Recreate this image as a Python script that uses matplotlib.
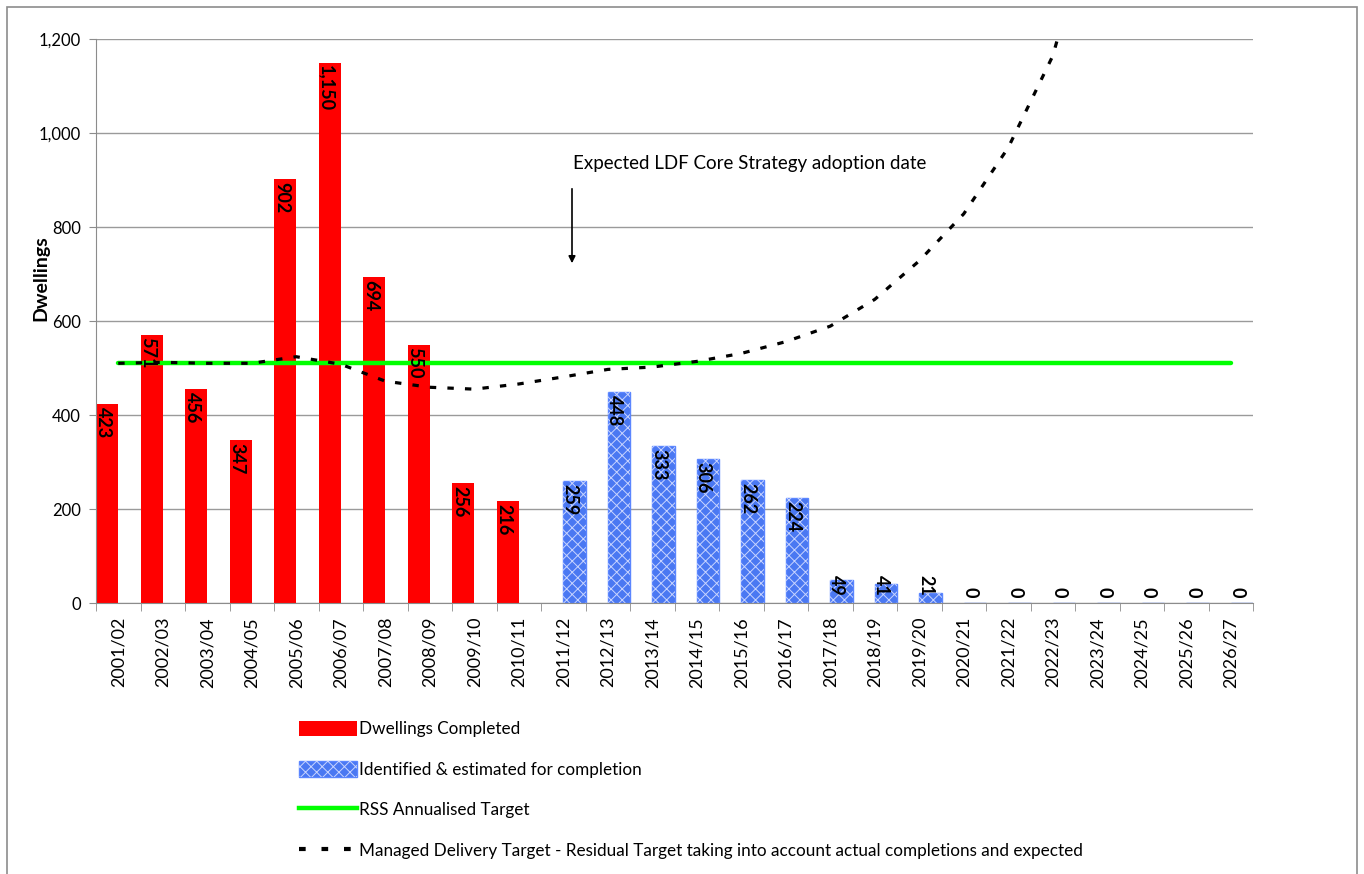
# Dwellings completed / identified vs RSS and managed delivery targets
import numpy as np
import matplotlib
matplotlib.use('agg')
import matplotlib.pyplot as plt
from matplotlib.patches import Patch, Rectangle
from matplotlib.lines import Line2D

plt.rcParams['font.family'] = ['Lato', 'DejaVu Sans']

years = ['2001/02', '2002/03', '2003/04', '2004/05', '2005/06', '2006/07', '2007/08',
         '2008/09', '2009/10', '2010/11', '2011/12', '2012/13', '2013/14', '2014/15',
         '2015/16', '2016/17', '2017/18', '2018/19', '2019/20', '2020/21', '2021/22',
         '2022/23', '2023/24', '2024/25', '2025/26', '2026/27']

completed = [423, 571, 456, 347, 902, 1150, 694, 550, 256, 216]
identified = [259, 448, 333, 306, 262, 224, 49, 41, 21, 0, 0, 0, 0, 0, 0, 0]
rss_target = [510] * 26
managed = [510, 512, 510, 510, 524, 508, 472, 459, 455, 466, 481, 497, 502, 514,
           531, 556, 589, 646, 728, 828, 969, 1164, 1500, 2000, 3000, 6000]

red = '#ff0000'
blue = '#4a78f2'
green = '#00ff00'

fig = plt.figure(figsize=(13.64, 8.74), dpi=100)
ax = fig.add_axes([96/1364, 1 - 603/874, (1253-96)/1364, (603-39)/874])

x = np.arange(len(years))
xc = x[:len(completed)] - 0.25
xi = x[len(completed):] + 0.25

ax.bar(xc, completed, width=0.5, color=red, zorder=2)
ax.bar(xi, identified, width=0.5, color=blue, edgecolor='#5b86ff', linewidth=1, zorder=2)
plt.rcParams['hatch.linewidth'] = 0.7
ax.bar(xi, identified, width=0.5, facecolor='none', edgecolor='#c8d4ff', hatch='xxx',
       linewidth=0, zorder=2)

ax.plot(x, rss_target, color=green, lw=3.2, solid_capstyle='round', zorder=3)
ax.plot(x, managed, color='black', lw=2.3, linestyle=(0, (2, 3.5)), zorder=4)

# bar value labels
for xx, v in zip(xc, completed):
    ax.text(xx - 0.08, v - 6, '{:,}'.format(v), rotation=-90, ha='center', va='top',
            fontsize=13, fontweight='bold', zorder=5)
for xx, v in zip(xi, identified):
    if v == 0:
        ytop = 34
    else:
        ytop = max(v - 6, 60)
    ax.text(xx - 0.1, ytop, '{:,}'.format(v), rotation=-90, ha='center', va='top',
            fontsize=13, fontweight='bold', zorder=5)

ax.set_xlim(-0.5, len(years) - 0.5)
ax.set_ylim(0, 1200)
ax.set_yticks(range(0, 1201, 200))
ax.set_yticklabels(['{:,}'.format(t) for t in range(0, 1201, 200)], fontsize=12)
ax.yaxis.grid(True, color='#9a9a9a', lw=1)
ax.set_axisbelow(True)

ax.set_xticks(x)
ax.set_xticklabels(years, rotation=90, fontsize=13)
ax.set_xticks(np.arange(-0.5, len(years)), minor=True)
ax.tick_params(axis='x', which='major', length=0, pad=10)
ax.tick_params(axis='x', which='minor', length=6, color='#8c8c8c', direction='out')
ax.tick_params(axis='y', length=5, color='#8c8c8c', pad=6)

for s in ['top', 'right']:
    ax.spines[s].set_visible(False)
for s in ['left', 'bottom']:
    ax.spines[s].set_color('#8c8c8c')

ax.set_ylabel('Dwellings', fontsize=14, fontweight='bold')
ax.yaxis.set_label_coords(-0.04, 0.576)

fig.text(573/1364, 1 - 163/874, 'Expected LDF Core Strategy adoption date', fontsize=13.5,
         va='center', ha='left')
ax.annotate('', xy=(572/1364, 1 - 266/874), xytext=(572/1364, 1 - 186/874),
            xycoords='figure fraction', textcoords='figure fraction',
            arrowprops=dict(arrowstyle='-|>', color='black', lw=1.2, mutation_scale=10))

# legend
handles = [Patch(facecolor=red),
           (Patch(facecolor=blue, edgecolor='#5b86ff'),
            Patch(facecolor='none', edgecolor='#c8d4ff', hatch='xxx', lw=0)),
           Line2D([0], [0], color=green, lw=3.2),
           Line2D([0], [0], color='black', lw=3, linestyle=(0, (1.6, 3.8)))]
labels = ['Dwellings Completed', 'Identified & estimated for completion',
          'RSS Annualised Target',
          'Managed Delivery Target - Residual Target taking into account actual completions and expected']
fig.legend(handles, labels, loc='upper left', bbox_to_anchor=(292/1364, 1 - 714/874),
           frameon=False, fontsize=12.3, handlelength=3.4, handleheight=1.0,
           handletextpad=0.15, labelspacing=1.4, borderaxespad=0)

# chart area border
fig.patches.append(Rectangle((7/1364, -0.01), 1350/1364, 1 - 7/874 + 0.01,
                             transform=fig.transFigure, fill=False,
                             edgecolor='#8c8c8c', lw=1.2))

fig.savefig('out.png', dpi=100)
